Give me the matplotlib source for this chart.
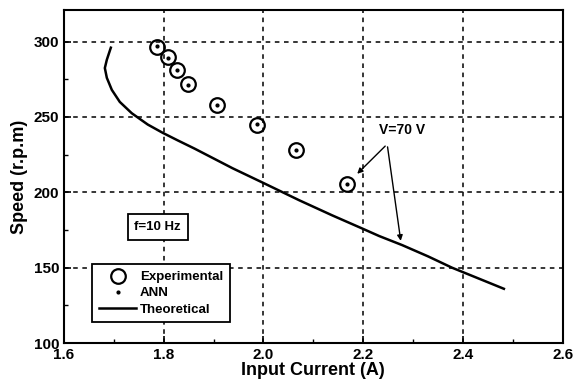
import matplotlib.pyplot as plt
from matplotlib.ticker import MultipleLocator

# veriler
exp_current = [1.786, 1.808, 1.826, 1.848, 1.906, 1.988, 2.066, 2.168]
exp_speed = [296.5, 289.5, 281.5, 272.0, 258.0, 245.0, 228.0, 205.5]

ann_current = [1.786, 1.808, 1.826, 1.848, 1.906, 1.988, 2.066, 2.168]
ann_speed = [297.0, 289.0, 281.0, 271.5, 258.0, 245.5, 228.0, 205.5]

theo_current = [1.694, 1.686, 1.682, 1.686, 1.696, 1.712, 1.736, 1.768, 1.798,
                1.828, 1.862, 1.900, 1.938, 2.000, 2.072, 2.138, 2.198, 2.232,
                2.278, 2.330, 2.378, 2.430, 2.482]
theo_speed = [296.0, 288.0, 282.5, 276.0, 268.0, 260.0, 252.5, 245.0, 239.5,
              234.5, 229.0, 222.5, 216.0, 206.2, 194.7, 184.7, 176.0, 171.0,
              165.0, 157.5, 150.0, 143.0, 136.0]

plt.rcParams['font.family'] = ['Liberation Sans', 'DejaVu Sans']
plt.rcParams['font.weight'] = 'bold'

fig = plt.figure(figsize=(5.76, 3.85), dpi=100)
ax = fig.add_axes([0.111, 0.109, 0.866, 0.865])

ax.plot(exp_current, exp_speed, 'o', mfc='none', mec='black', ms=10.5, mew=1.6,
        label='Experimental')
ax.plot(ann_current, ann_speed, '.', color='black', ms=4, label='ANN')
ax.plot(theo_current, theo_speed, '-', color='black', lw=1.8, label='Theoretical')

ax.set_xlim(1.6, 2.6)
ax.set_ylim(100, 321)
ax.xaxis.set_major_locator(MultipleLocator(0.2))
ax.xaxis.set_minor_locator(MultipleLocator(0.1))
ax.yaxis.set_major_locator(MultipleLocator(50))
ax.yaxis.set_minor_locator(MultipleLocator(25))
ax.set_xticks([1.6, 1.8, 2.0, 2.2, 2.4, 2.6])
ax.set_xticklabels(['1.6', '1.8', '2.0', '2.2', '2.4', '2.6'])
ax.grid(True, which='major', color='black', linestyle=(0, (3, 3)), linewidth=1.1)
ax.tick_params(which='major', direction='in', length=5, width=1.2, labelsize=11)
ax.tick_params(which='minor', direction='in', length=3, width=1.0)
for lbl in ax.get_xticklabels() + ax.get_yticklabels():
    lbl.set_fontweight('bold')
for s in ax.spines.values():
    s.set_linewidth(1.5)

ax.set_xlabel('Input Current (A)', fontsize=13, fontweight='bold', labelpad=0)
ax.set_ylabel('Speed (r.p.m)', fontsize=13, fontweight='bold', labelpad=4)

# f=10 Hz kutusu
ax.text(1.788, 177, 'f=10 Hz', fontsize=9.5, fontweight='bold', ha='center', va='center',
        bbox=dict(boxstyle='square,pad=0.5', fc='white', ec='black', lw=1.3))

# V=70 V oklari
ax.text(2.278, 241.5, 'V=70 V', fontsize=10, fontweight='bold', ha='center', va='center')
ax.annotate('', xy=(2.184, 211), xytext=(2.248, 232),
            arrowprops=dict(arrowstyle='-|>', color='black', lw=1.0, mutation_scale=8))
ax.annotate('', xy=(2.276, 166), xytext=(2.248, 232),
            arrowprops=dict(arrowstyle='-|>', color='black', lw=1.0, mutation_scale=8))

leg = ax.legend(loc='upper left', bbox_to_anchor=(0.044, 0.256), fontsize=9.5,
                frameon=True, fancybox=False, edgecolor='black', framealpha=1,
                borderpad=0.5, labelspacing=0.3, handlelength=2.8, handletextpad=0.3)
leg.get_frame().set_linewidth(1.3)
for t in leg.get_texts():
    t.set_fontweight('bold')

plt.savefig('out.png', dpi=100)
